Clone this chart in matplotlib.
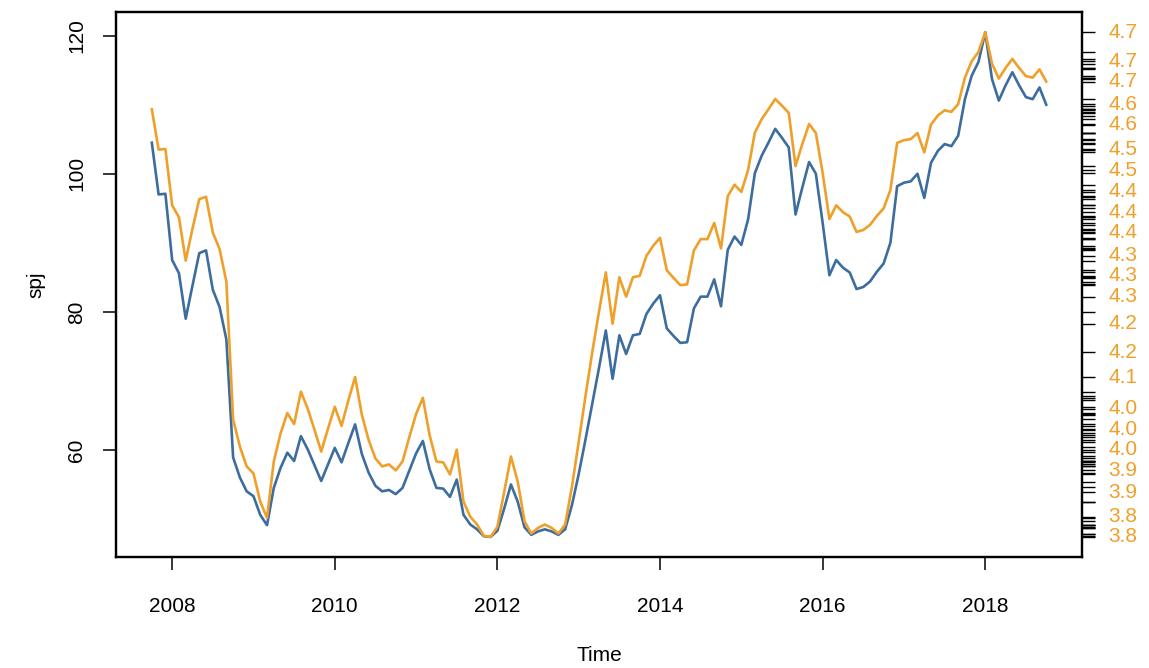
import numpy as np
import matplotlib
matplotlib.use('Agg')
import matplotlib.pyplot as plt
import matplotlib.transforms as mtransforms

plt.rcParams['font.family'] = ['Liberation Sans', 'DejaVu Sans']

COLOR_SPJ = '#3d6d9e'
COLOR_LOG = '#eea02a'

# monthly series, Oct 2007 .. Oct 2018
start_year = 2007.75
freq = 12
spj = [
    104.5, 97.0, 97.1, 87.5, 85.6, 79.0, 83.8, 88.5, 88.9, 83.2, 80.7, 76.0,
    58.9, 56.0, 54.0, 53.3, 50.6, 49.1, 54.5, 57.4, 59.6, 58.4, 62.0, 60.1,
    57.8, 55.5, 57.9, 60.3, 58.2, 61.0, 63.7, 59.4, 56.7, 54.8, 54.0, 54.2,
    53.6, 54.5, 57.0, 59.5, 61.3, 57.2, 54.5, 54.4, 53.2, 55.7, 50.6, 49.2,
    48.5, 47.5, 47.4, 48.3, 51.5, 55.0, 52.5, 48.8, 47.7, 48.2, 48.5, 48.2,
    47.7, 48.5, 52.0, 56.5, 61.5, 66.7, 71.9, 77.3, 70.3, 76.6, 73.9, 76.6,
    76.8, 79.7, 81.2, 82.4, 77.6, 76.5, 75.5, 75.6, 80.5, 82.2, 82.2, 84.7,
    80.8, 89.0, 90.9, 89.7, 93.4, 100.1, 102.6, 104.5, 106.5, 105.2, 103.8, 94.1,
    98.0, 101.7, 100.0, 92.9, 85.3, 87.5, 86.4, 85.7, 83.3, 83.6, 84.4, 85.8,
    87.0, 90.0, 98.2, 98.7, 98.9, 100.0, 96.5, 101.6, 103.3, 104.3, 104.0, 105.5,
    110.8, 114.2, 116.2, 120.5, 113.7, 110.6, 112.8, 114.7, 112.8, 111.1, 110.8, 112.5,
    110.0,
]
x_ticks = [2008, 2010, 2012, 2014, 2016, 2018]
y_ticks = [60, 80, 100, 120]


def r_range(v, ext=0.04):
    lo, hi = np.min(v), np.max(v)
    d = (hi - lo) * ext
    return lo - d, hi + d


def main():
    y = np.array(spj)
    t = start_year + np.arange(len(y)) / freq
    ly = np.log(y)

    fig = plt.figure(figsize=(11.49, 6.68), dpi=100)
    ax = fig.add_axes([0.101, 0.166, 0.8407, 0.816])
    ax.plot(t, y, color=COLOR_SPJ, linewidth=1.9)
    ax.set_xlim(*r_range(t))
    ax.set_ylim(*r_range(y))
    ax.set_xticks(x_ticks)
    ax.set_yticks(y_ticks)
    ax.tick_params(axis='both', direction='out', length=9.5, width=1.1, labelsize=15, color='black')
    ax.tick_params(axis='x', pad=19)
    ax.tick_params(axis='y', pad=12)
    for lab in ax.get_yticklabels():
        lab.set_rotation(90)
        lab.set_va('center')
    ax.set_xlabel('Time', fontsize=15, labelpad=22)
    ax.set_ylabel('spj', fontsize=15, labelpad=16)
    for s in ax.spines.values():
        s.set_linewidth(1.6)

    ax2 = ax.twinx()
    ax2.plot(t, ly, color=COLOR_LOG, linewidth=1.9)
    ax2.set_ylim(*r_range(ly))

    # ticks at every value of log(spj)
    vals = np.sort(ly)
    ax2.set_yticks(vals)
    ax2.set_yticklabels([])
    ax2.tick_params(axis='y', direction='out', length=9.5, width=1.0)
    for s in ax2.spines.values():
        s.set_linewidth(1.6)

    # labels only where they do not collide with the previous one (bottom up)
    trans = ax2.get_yaxis_transform() + mtransforms.ScaledTranslation(26 / 100, 0, fig.dpi_scale_trans)
    last = None
    for v in vals:
        py = ax2.transData.transform((0, v))[1]
        if last is None or py - last > 20:
            ax2.text(1.0, v, f'{np.floor(v * 10) / 10:.1f}', transform=trans,
                     ha='left', va='center', fontsize=15, color=COLOR_LOG)
            last = py

    fig.savefig('out.png', dpi=100)


if __name__ == '__main__':
    main()
